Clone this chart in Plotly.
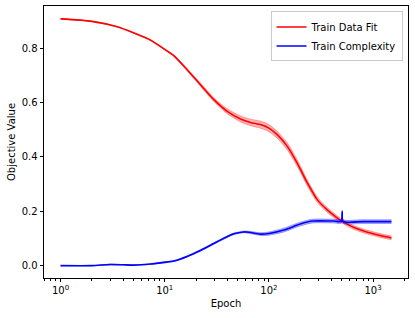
import plotly.graph_objects as go

# ---- data ----
fit_epoch = [1, 2, 3.5, 5, 7.3, 9.8, 12.2, 16.4, 22, 29.6, 39.8, 53.4, 66.6, 83, 100,
             120, 150, 187, 234, 292, 363, 454, 525, 657, 883, 1175, 1500]
fit_mean = [0.908, 0.899, 0.879, 0.857, 0.830, 0.798, 0.773, 0.721, 0.666, 0.611, 0.568,
            0.540, 0.527, 0.519, 0.506, 0.482, 0.439, 0.377, 0.304, 0.242, 0.205, 0.175,
            0.159, 0.140, 0.123, 0.111, 0.102]
fit_std = [0.001, 0.001, 0.001, 0.001, 0.002, 0.002, 0.003, 0.004, 0.006, 0.007, 0.009,
           0.011, 0.012, 0.013, 0.013, 0.013, 0.013, 0.012, 0.011, 0.010, 0.009, 0.008,
           0.007, 0.007, 0.007, 0.007, 0.007]

cx_epoch = [1, 2, 3, 4, 5, 7.3, 9.8, 12.2, 16.4, 22, 31.9, 46, 57, 64, 83, 100, 139,
            200, 262, 420, 495, 505, 515, 800, 1500]
cx_mean = [0.0, 0.0, 0.004, 0.003, 0.002, 0.006, 0.012, 0.017, 0.034, 0.056, 0.088,
           0.117, 0.124, 0.123, 0.116, 0.118, 0.131, 0.153, 0.164, 0.164, 0.163, 0.198,
           0.163, 0.162, 0.162]
cx_std = [0.0, 0.0, 0.002, 0.001, 0.001, 0.001, 0.002, 0.002, 0.002, 0.003, 0.003,
          0.003, 0.003, 0.004, 0.005, 0.006, 0.007, 0.007, 0.007, 0.007, 0.007, 0.007,
          0.007, 0.007, 0.007]

x_ticks = [1, 10, 100, 1000]
x_ticktext = ["10<sup>0</sup>", "10<sup>1</sup>", "10<sup>2</sup>", "10<sup>3</sup>"]
x_minor = [m * d for d in (0.1, 1, 10, 100, 1000) for m in range(2, 10)]
y_ticks = [0.0, 0.2, 0.4, 0.6, 0.8]

FONT = "DejaVu Sans"


def band(x, mean, std, rgb, name, smooth):
    lo = [m - s for m, s in zip(mean, std)]
    hi = [m + s for m, s in zip(mean, std)]
    edge = f"rgba({rgb},0.3)"
    shp = "spline" if smooth else "linear"
    return [
        go.Scatter(x=x, y=lo, mode="lines",
                   line=dict(color=edge, width=1, shape=shp, smoothing=0.7),
                   showlegend=False, hoverinfo="skip"),
        go.Scatter(x=x, y=hi, mode="lines",
                   line=dict(color=edge, width=1, shape=shp, smoothing=0.7),
                   fill="tonexty", fillcolor=f"rgba({rgb},0.3)",
                   showlegend=False, hoverinfo="skip"),
        go.Scatter(x=x, y=mean, mode="lines", name=name,
                   line=dict(color=f"rgb({rgb})", width=1.6, shape=shp, smoothing=0.7)),
    ]


fig = go.Figure()
for t in band(fit_epoch, fit_mean, fit_std, "255,0,0", "Train Data Fit", True):
    fig.add_trace(t)
for t in band(cx_epoch, cx_mean, cx_std, "0,0,255", "Train Complexity", True):
    fig.add_trace(t)

fig.update_layout(
    width=415, height=318,
    margin=dict(l=44, r=7, t=6, b=40),
    paper_bgcolor="white", plot_bgcolor="white",
    font=dict(family=FONT, size=10, color="black"),
    showlegend=True,
    legend=dict(x=0.985, y=0.98, xanchor="right", yanchor="top",
                traceorder="normal",
                bgcolor="rgba(255,255,255,0.9)", bordercolor="#cccccc",
                borderwidth=1, font=dict(size=10, family=FONT),
                tracegroupgap=0, itemwidth=30),
)
fig.update_xaxes(
    type="log", range=[-0.159, 3.335],
    tickmode="array", tickvals=x_ticks, ticktext=x_ticktext,
    ticks="outside", ticklen=3.5, tickwidth=0.8, tickcolor="black",
    showline=True, linecolor="black", linewidth=0.8, mirror=True,
    showgrid=False, zeroline=False,
    minor=dict(tickmode="array", tickvals=x_minor, ticks="outside",
               ticklen=2, tickwidth=0.6, tickcolor="black", showgrid=False),
    title=dict(text="Epoch", font=dict(size=10, family=FONT), standoff=4),
    tickfont=dict(size=10, family=FONT),
)
fig.update_yaxes(
    range=[-0.0455, 0.9555],
    tickmode="array", tickvals=y_ticks, tickformat=".1f",
    ticks="outside", ticklen=3.5, tickwidth=0.8, tickcolor="black",
    showline=True, linecolor="black", linewidth=0.8, mirror=True,
    showgrid=False, zeroline=False,
    title=dict(text="Objective Value", font=dict(size=10, family=FONT), standoff=4),
    tickfont=dict(size=10, family=FONT),
)

fig.write_html("out.html", config={"displayModeBar": False},
               post_script="document.body.style.margin='0';")
